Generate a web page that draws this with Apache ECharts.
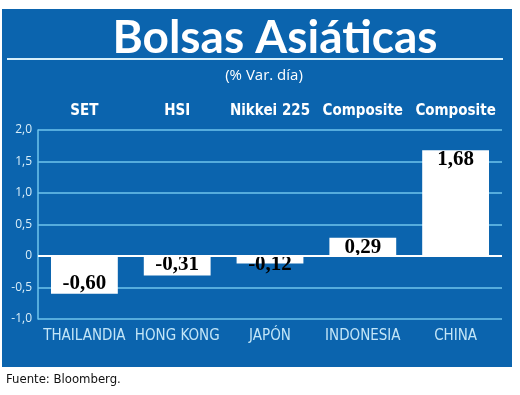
<!DOCTYPE html>
<html>
<head>
<meta charset="utf-8">
<script src="https://cdn.jsdelivr.net/npm/echarts@6/dist/echarts.min.js"></script>
<style>html,body{margin:0;padding:0;background:#fff}#c{width:520px;height:395px}</style>
</head>
<body>
<div id="c"></div>
<script>
const countries = ['THAILANDIA', 'HONG KONG', 'JAPÓN', 'INDONESIA', 'CHINA'];
const indices = ['SET', 'HSI', 'Nikkei 225', 'Composite', 'Composite'];
const values = [-0.60, -0.31, -0.12, 0.29, 1.68];
const yTicks = { min: -1, max: 2, interval: 0.5 };

const BLUE = '#0b64ae';
const GRID = '#6fc5ec';
const NARROW = '"DejaVu Sans Condensed", "Liberation Sans Narrow", sans-serif';
const fmt = v => v.toFixed(2).replace('.', ',');

const chart = echarts.init(document.getElementById('c'), null, { renderer: 'canvas' });
chart.setOption({
  backgroundColor: '#ffffff',
  animation: false,
  graphic: [
    { type: 'rect', z: -10, silent: true, shape: { x: 2, y: 9, width: 510, height: 358 }, style: { fill: BLUE } },
    { type: 'text', z: 10, style: { text: 'Bolsas Asiáticas', x: 275, y: 38, fill: '#ffffff', font: 'bold 46px Lato, "Open Sans", sans-serif', textAlign: 'center', textVerticalAlign: 'middle' } },
    { type: 'line', z: 10, shape: { x1: 7, y1: 59, x2: 503, y2: 59 }, style: { stroke: '#d6eefa', lineWidth: 2 } },
    { type: 'text', z: 10, style: { text: '(% Var. día)', x: 264, y: 76, fill: '#ffffff', font: '15px "Open Sans", Lato, sans-serif', textAlign: 'center', textVerticalAlign: 'middle' } },
    { type: 'text', z: 10, style: { text: 'Fuente: Bloomberg.', x: 6, y: 380, fill: '#111111', font: '13px ' + NARROW, textAlign: 'left', textVerticalAlign: 'middle' } }
  ],
  grid: { left: 38, right: 18, top: 130, bottom: 76 },
  xAxis: [
    {
      type: 'category', data: countries, position: 'bottom',
      axisLine: { show: false, onZero: false }, axisTick: { show: false },
      axisLabel: { interval: 0, color: '#c2e5f7', fontFamily: NARROW, fontSize: 15, margin: 10 }
    },
    {
      type: 'category', data: indices, position: 'top',
      axisLine: { show: false, onZero: false }, axisTick: { show: false },
      axisLabel: { interval: 0, color: '#ffffff', fontFamily: NARROW, fontWeight: 'bold', fontSize: 15, margin: 11 }
    }
  ],
  yAxis: {
    type: 'value', min: yTicks.min, max: yTicks.max, interval: yTicks.interval,
    axisLine: { show: true, lineStyle: { color: GRID, width: 1.5 } },
    axisTick: { show: false },
    splitLine: { lineStyle: { color: GRID, width: 1.5 } },
    axisLabel: {
      color: '#d8eef9', fontFamily: '"Open Sans", sans-serif', fontSize: 12, margin: 6,
      formatter: v => v === 0 ? '0' : v.toFixed(1).replace('.', ',')
    }
  },
  series: [{
    type: 'bar',
    xAxisIndex: 0,
    barWidth: '72%',
    data: values.map(v => ({
      value: v,
      label: v >= 0
        ? { position: 'insideTop', distance: -1 }
        : (Math.abs(v) > 0.2 ? { position: 'insideBottom', distance: 0 } : { position: 'bottom', distance: -9 })
    })),
    itemStyle: { color: '#ffffff' },
    label: {
      show: true, color: '#000000', fontFamily: '"Liberation Serif", "DejaVu Serif", serif',
      fontWeight: 'bold', fontSize: 21, formatter: p => fmt(p.value)
    },
    markLine: {
      silent: true, symbol: 'none', label: { show: false },
      lineStyle: { color: '#ffffff', width: 2, type: 'solid' },
      data: [{ yAxis: 0 }]
    }
  }]
});
</script>
</body>
</html>
